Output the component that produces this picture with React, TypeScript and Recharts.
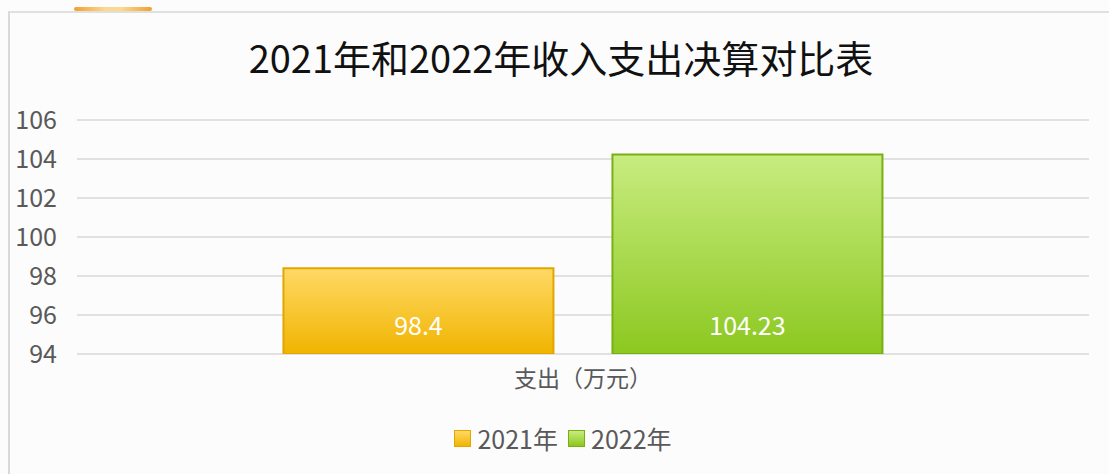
import { BarChart, Bar, XAxis, YAxis, CartesianGrid, Legend, LabelList } from "recharts";

const categories = ["支出（万元）"];
const seriesNames = ["2021年", "2022年"];
const values2021 = [98.4];
const values2022 = [104.23];
const yTicks = [94, 96, 98, 100, 102, 104, 106];

const data = categories.map((name, i) => ({
  name,
  y2021: values2021[i],
  y2022: values2022[i],
}));

const FONT = '"Noto Sans CJK SC", "Noto Sans", sans-serif';

const legendItems = [
  { label: seriesNames[0], from: "#ffd966", to: "#f0b400", border: "#e3a600" },
  { label: seriesNames[1], from: "#c8ec80", to: "#8cc820", border: "#78b012" },
];

function ChartLegend() {
  return (
    <div style={{ display: "flex", justifyContent: "center", alignItems: "center", height: 30, fontFamily: FONT, fontSize: 25, color: "#595959" }}>
      {legendItems.map((it) => (
        <div key={it.label} style={{ display: "flex", alignItems: "center", marginRight: 10 }}>
          <span
            style={{
              display: "inline-block",
              width: 15,
              height: 15,
              marginRight: 6,
              border: `1.5px solid ${it.border}`,
              background: `linear-gradient(${it.from}, ${it.to})`,
            }}
          />
          <span>{it.label}</span>
        </div>
      ))}
    </div>
  );
}

export default function App() {
  return (
    <div style={{ position: "absolute", left: 0, top: 0, width: 1109, height: 474, background: "#fcfcfc", overflow: "hidden" }}>
      {/* frame + tab */}
      <div style={{ position: "absolute", left: 8, top: 11, width: 1120, height: 500, borderLeft: "2px solid #d9d9d9", borderTop: "2px solid #e0e0e0" }} />
      <div style={{ position: "absolute", left: 74, top: 7, width: 78, height: 4, borderRadius: 2, background: "linear-gradient(90deg, #f0a030, #fcd890 40%, #fcd890 60%, #f0a030)" }} />

      <div style={{ position: "absolute", left: 0, top: 32, width: 1122, textAlign: "center", fontFamily: FONT, fontSize: 38, color: "#111", lineHeight: "50px" }}>
        2021年和2022年收入支出决算对比表
      </div>

      <div style={{ position: "absolute", left: 0, top: 0 }}>
        <BarChart
          width={1109}
          height={474}
          data={data}
          margin={{ top: 120, right: 20, bottom: 40, left: 0 }}
          barCategoryGap="20.4%"
          barGap={59}
        >
          <defs>
            <linearGradient id="gYellow" x1="0" y1="0" x2="0" y2="1">
              <stop offset="0%" stopColor="#ffd966" />
              <stop offset="100%" stopColor="#f0b400" />
            </linearGradient>
            <linearGradient id="gGreen" x1="0" y1="0" x2="0" y2="1">
              <stop offset="0%" stopColor="#c8ec80" />
              <stop offset="100%" stopColor="#8cc820" />
            </linearGradient>
          </defs>
          <CartesianGrid vertical={false} stroke="#d9d9d9" strokeWidth={1.5} />
          <XAxis
            dataKey="name"
            axisLine={false}
            tickLine={false}
            height={50}
            tickMargin={11}
            tick={{ fontFamily: FONT, fontSize: 23, fill: "#595959" }}
          />
          <YAxis
            domain={[94, 106]}
            ticks={yTicks}
            interval={0}
            axisLine={false}
            tickLine={false}
            width={77}
            tickMargin={14}
            allowDataOverflow
            tick={{ fontFamily: FONT, fontSize: 25, fill: "#595959" }}
          />
          <Legend verticalAlign="bottom" wrapperStyle={{ bottom: 21, left: 0, width: 1136 }} content={() => <ChartLegend />} />
          <Bar dataKey="y2021" name={seriesNames[0]} fill="url(#gYellow)" stroke="#e3a600" strokeWidth={2} isAnimationActive={false}>
            <LabelList dataKey="y2021" position="insideBottom" offset={19} fill="#ffffff" style={{ fontFamily: FONT, fontSize: 25 }} />
          </Bar>
          <Bar dataKey="y2022" name={seriesNames[1]} fill="url(#gGreen)" stroke="#78b012" strokeWidth={2} isAnimationActive={false}>
            <LabelList dataKey="y2022" position="insideBottom" offset={19} fill="#ffffff" style={{ fontFamily: FONT, fontSize: 25 }} />
          </Bar>
        </BarChart>
      </div>
    </div>
  );
}
